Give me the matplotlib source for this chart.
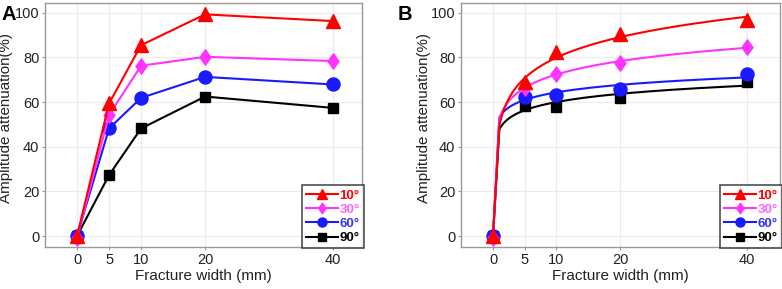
import numpy as np
import matplotlib
matplotlib.use("Agg")
import matplotlib.pyplot as plt
from matplotlib.lines import Line2D
from matplotlib.path import Path

plt.rcParams['font.family'] = ['Liberation Sans', 'DejaVu Sans']

widths = [0, 5, 10, 20, 40]
labels = ["10°", "30°", "60°", "90°"]
colors = ["#ff0000", "#ff33ff", "#1a1aff", "#000000"]
legend_text_colors = ["#ff0000", "#ff66ff", "#3333ff", "#000000"]

# Panel A
a_10 = [0, 59.4, 85.5, 99.3, 96.3]
a_30 = [-1, 54.2, 76.3, 80.3, 78.4]
a_60 = [0, 48.2, 61.9, 71.3, 67.9]
a_90 = [0, 27.3, 48.2, 62.5, 57.4]

# Panel B
b_10 = [0, 68.8, 82.3, 90.4, 96.6]
b_30 = [-1, 66.5, 72.7, 77.5, 84.8]
b_60 = [0, 62.5, 63.0, 66.0, 72.7]
b_90 = [0, 58.3, 58.0, 62.0, 69.2]

yticks = [0, 20, 40, 60, 80, 100]

diamond = Path([(0, 1), (0.72, 0), (0, -1), (-0.72, 0), (0, 1)],
               [Path.MOVETO, Path.LINETO, Path.LINETO, Path.LINETO, Path.CLOSEPOLY])
markers = ["^", diamond, "o", "s"]
msizes = [9.6, 11.0, 9.4, 7.0]
leg_markers = ["^", diamond, "o", "s"]
leg_msizes = [6.5, 7.5, 6.5, 5.5]

fig = plt.figure(figsize=(7.82, 2.89), dpi=100)
H = 289.0
W = 782.0
axA = fig.add_axes([45 / W, (H - 247) / H, (362 - 45) / W, (247 - 3) / H])
axB = fig.add_axes([461 / W, (H - 247) / H, (780 - 461) / W, (247 - 3) / H])


def style(ax, xlim, labx):
    ax.set_xlim(*xlim)
    ax.set_ylim(-4.9, 104.4)
    ax.set_xticks(widths)
    ax.set_yticks(yticks)
    ax.grid(True, color="#ebebeb", linewidth=0.8)
    ax.set_axisbelow(True)
    for s in ax.spines.values():
        s.set_color("#9a9a9a")
        s.set_linewidth(1.0)
    ax.tick_params(length=2.0, color="#9a9a9a", labelsize=10.5, labelcolor="#222222", pad=2)
    ax.set_xlabel("Fracture width (mm)", fontsize=11, color="#222222", labelpad=2)
    ax.set_ylabel("Amplitude attenuation(%)", fontsize=10.9, color="#222222")
    ax.yaxis.set_label_coords(labx, 0.53)


def legend(ax):
    handles = [Line2D([], [], color=c, marker=m, markersize=s, linewidth=1.5)
               for c, m, s in zip(colors, leg_markers, leg_msizes)]
    leg = ax.legend(handles, labels, loc="lower right", bbox_to_anchor=(1.005, -0.005),
                    frameon=True, fancybox=False, handlelength=2.4,
                    handletextpad=0.1, borderpad=0.3, labelspacing=0.15, borderaxespad=0.0,
                    prop={'weight': 'bold', 'size': 9.5})
    leg.get_frame().set_edgecolor("#222222")
    leg.get_frame().set_linewidth(1.2)
    for t, c in zip(leg.get_texts(), legend_text_colors):
        t.set_color(c)


seriesA = [a_10, a_30, a_60, a_90]
seriesB = [b_10, b_30, b_60, b_90]

style(axA, (-5, 44.5), -0.101)
for i in [3, 2, 1, 0]:
    axA.plot(widths, seriesA[i], color=colors[i], marker=markers[i], markersize=msizes[i],
             linewidth=1.5, zorder=3 + (3 - i))
legend(axA)

style(axB, (-5.04, 45.2), -0.094)
x = np.array(widths, dtype=float)
for i in [3, 2, 1, 0]:
    y = np.array(seriesB[i])
    pos = x > 0
    b, a = np.polyfit(np.log(x[pos]), y[pos], 1)
    xs = np.concatenate([[0.0], np.linspace(1, 40, 200)])
    ys = a + b * np.log(np.where(xs > 0, xs, 1))
    ys[0] = 0.0
    axB.plot(xs, ys, color=colors[i], linewidth=1.5, zorder=3 + (3 - i))
    axB.plot(widths, seriesB[i], color=colors[i], marker=markers[i], markersize=msizes[i],
             linestyle="none", zorder=3 + (3 - i))
legend(axB)

fig.text(2 / W, 1 - 5 / H, "A", fontsize=14.5, fontweight="bold", va="top", ha="left")
fig.text(398 / W, 1 - 5 / H, "B", fontsize=14.5, fontweight="bold", va="top", ha="left")

fig.savefig("out.png", dpi=100)
